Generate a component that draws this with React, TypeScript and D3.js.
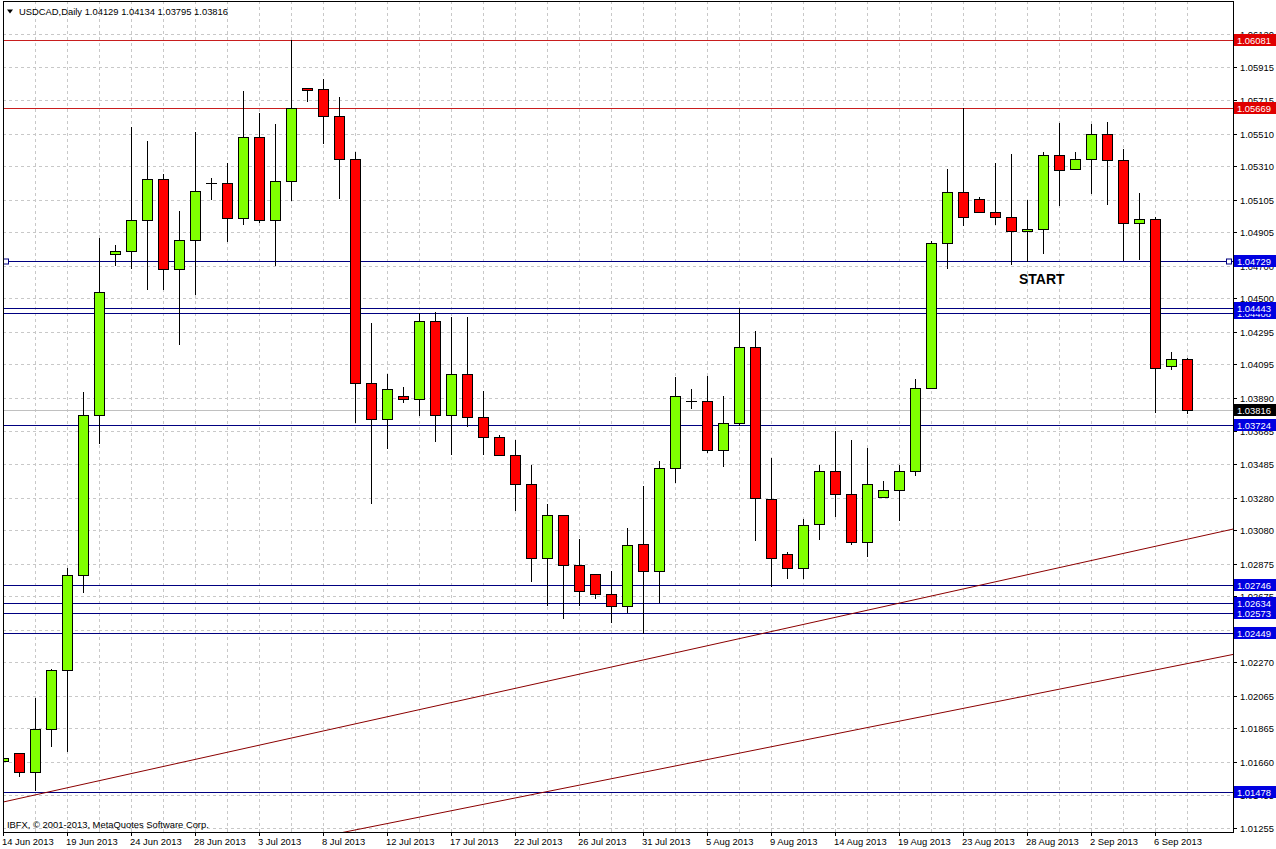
import * as d3 from "d3";

// bar dates (broker feed includes Sunday bars)
const barDates = [
  "14 Jun 2013", "16 Jun 2013", "17 Jun 2013", "18 Jun 2013", "19 Jun 2013", "20 Jun 2013", "21 Jun 2013",
  "23 Jun 2013", "24 Jun 2013", "25 Jun 2013", "26 Jun 2013", "27 Jun 2013", "28 Jun 2013",
  "30 Jun 2013", "1 Jul 2013", "2 Jul 2013", "3 Jul 2013", "4 Jul 2013", "5 Jul 2013",
  "7 Jul 2013", "8 Jul 2013", "9 Jul 2013", "10 Jul 2013", "11 Jul 2013", "12 Jul 2013",
  "14 Jul 2013", "15 Jul 2013", "16 Jul 2013", "17 Jul 2013", "18 Jul 2013", "19 Jul 2013",
  "21 Jul 2013", "22 Jul 2013", "23 Jul 2013", "24 Jul 2013", "25 Jul 2013", "26 Jul 2013",
  "28 Jul 2013", "29 Jul 2013", "30 Jul 2013", "31 Jul 2013", "1 Aug 2013", "2 Aug 2013",
  "4 Aug 2013", "5 Aug 2013", "6 Aug 2013", "7 Aug 2013", "8 Aug 2013", "9 Aug 2013",
  "11 Aug 2013", "12 Aug 2013", "13 Aug 2013", "14 Aug 2013", "15 Aug 2013", "16 Aug 2013",
  "18 Aug 2013", "19 Aug 2013", "20 Aug 2013", "21 Aug 2013", "22 Aug 2013", "23 Aug 2013",
  "25 Aug 2013", "26 Aug 2013", "27 Aug 2013", "28 Aug 2013", "29 Aug 2013", "30 Aug 2013",
  "1 Sep 2013", "2 Sep 2013", "3 Sep 2013", "4 Sep 2013", "5 Sep 2013", "6 Sep 2013",
  "8 Sep 2013", "9 Sep 2013",
];

// open, high, low, close
const ohlc: [number, number, number, number][] = [
  [1.01664, 1.01864, 1.01411, 1.01682],
  [1.01717, 1.01717, 1.01574, 1.01596],
  [1.01596, 1.02054, 1.01488, 1.01864],
  [1.01864, 1.02231, 1.01758, 1.02221],
  [1.02221, 1.0285, 1.01727, 1.02807],
  [1.02807, 1.03925, 1.02701, 1.03787],
  [1.03787, 1.04873, 1.03614, 1.04539],
  [1.04772, 1.04826, 1.04703, 1.04791],
  [1.04791, 1.05549, 1.04688, 1.04981],
  [1.04981, 1.05465, 1.04559, 1.05233],
  [1.05233, 1.0526, 1.04559, 1.04682],
  [1.04682, 1.05035, 1.04221, 1.04858],
  [1.04858, 1.05522, 1.04525, 1.05159],
  [1.05207, 1.05235, 1.05112, 1.05207],
  [1.05207, 1.05331, 1.04852, 1.04993],
  [1.04993, 1.05772, 1.04953, 1.05491],
  [1.05491, 1.05635, 1.04969, 1.04979],
  [1.04979, 1.05569, 1.04707, 1.05219],
  [1.05219, 1.06081, 1.05102, 1.05665],
  [1.05792, 1.05792, 1.0571, 1.05774],
  [1.05786, 1.05843, 1.0545, 1.0562],
  [1.0562, 1.05733, 1.05118, 1.05356],
  [1.05356, 1.05399, 1.03744, 1.0398],
  [1.0398, 1.0435, 1.03246, 1.03762],
  [1.03762, 1.04034, 1.03584, 1.03946],
  [1.03899, 1.03958, 1.03866, 1.03881],
  [1.03881, 1.04408, 1.03785, 1.04363],
  [1.04363, 1.04414, 1.03625, 1.03787],
  [1.03787, 1.04388, 1.03547, 1.04038],
  [1.04038, 1.04388, 1.03717, 1.03774],
  [1.03774, 1.03932, 1.03547, 1.03652],
  [1.03652, 1.03666, 1.03541, 1.03541],
  [1.03541, 1.03631, 1.03202, 1.03363],
  [1.03363, 1.03482, 1.02766, 1.02909],
  [1.02909, 1.03243, 1.02619, 1.03171],
  [1.03171, 1.03171, 1.02543, 1.02864],
  [1.02864, 1.03024, 1.02619, 1.02707],
  [1.02811, 1.02811, 1.02664, 1.02686],
  [1.02686, 1.02828, 1.02517, 1.02615],
  [1.02615, 1.03093, 1.02578, 1.02987],
  [1.02993, 1.03351, 1.02449, 1.0283],
  [1.0283, 1.03502, 1.02639, 1.03461],
  [1.03461, 1.04016, 1.03376, 1.03903],
  [1.03872, 1.03944, 1.0383, 1.03872],
  [1.03872, 1.04026, 1.0356, 1.03572],
  [1.03572, 1.03901, 1.03472, 1.03737],
  [1.03737, 1.04443, 1.03727, 1.04204],
  [1.04204, 1.04302, 1.03017, 1.03275],
  [1.03273, 1.03523, 1.02737, 1.02911],
  [1.02936, 1.02948, 1.02784, 1.0285],
  [1.0285, 1.0315, 1.02784, 1.03114],
  [1.0312, 1.03478, 1.03024, 1.03445],
  [1.03445, 1.03686, 1.03167, 1.03304],
  [1.03304, 1.03631, 1.02993, 1.03007],
  [1.03007, 1.03586, 1.02921, 1.03365],
  [1.03285, 1.03382, 1.03285, 1.03324],
  [1.03324, 1.03478, 1.03142, 1.03445],
  [1.03445, 1.04006, 1.03418, 1.03948],
  [1.03948, 1.04849, 1.03948, 1.04838],
  [1.04838, 1.05291, 1.04687, 1.05151],
  [1.05151, 1.05669, 1.04947, 1.04998],
  [1.0511, 1.05121, 1.05029, 1.05029],
  [1.05029, 1.05329, 1.04957, 1.04998],
  [1.04998, 1.05387, 1.04708, 1.04912],
  [1.04912, 1.051, 1.0473, 1.04924],
  [1.04926, 1.05398, 1.04781, 1.05379],
  [1.05379, 1.05575, 1.05071, 1.05287],
  [1.05294, 1.05398, 1.05294, 1.05355],
  [1.05355, 1.05567, 1.05147, 1.05508],
  [1.05508, 1.05583, 1.05077, 1.05345],
  [1.05345, 1.05414, 1.04738, 1.04963],
  [1.04963, 1.05147, 1.04744, 1.04987],
  [1.04987, 1.05, 1.03806, 1.04075],
  [1.04087, 1.04173, 1.04065, 1.0413],
  [1.04129, 1.04134, 1.03795, 1.03816],
];

const priceTicks = [
  "1.06120", "1.05915", "1.05715", "1.05510", "1.05310", "1.05105", "1.04905", "1.04700",
  "1.04500", "1.04295", "1.04095", "1.03890", "1.03685", "1.03485", "1.03280", "1.03080",
  "1.02875", "1.02675", "1.02470", "1.02270", "1.02065", "1.01865", "1.01660", "1.01455", "1.01255",
];

const redLevels = [1.06081, 1.05669];
const blueLevels = [1.04729, 1.04408, 1.04443, 1.03724, 1.02746, 1.02634, 1.02573, 1.02449, 1.01478];
const selectedLevel = 1.04729;
const bidPrice = 1.03816;

// trend lines: [bar index, price] anchors
const trendLines: [number, number][][] = [
  [[0, 1.01414], [74, 1.03024]],
  [[34, 1.01478], [74, 1.02262]],
];

const notes = [{ text: "START", index: 63.5, price: 1.0459 }];

const symbol = "USDCAD,Daily";
const copyright = "IBFX, \u00a9 2001-2013, MetaQuotes Software Corp.";

const W = 1276;
const H = 849;
const left = 3;
const right = 1233;
const top = 1;
const bottom = 832;
const font = "'Liberation Sans', Arial, sans-serif";
const fs = 9.4;

export default function App() {
  const x = d3.scaleLinear().domain([0, ohlc.length - 1]).range([3, 3 + 16 * (ohlc.length - 1)]);
  const y = d3.scaleLinear().domain([1.01255, 1.0612]).range([828, 34]);
  const fmt = d3.format(".5f");
  const last = ohlc[ohlc.length - 1];

  const iLeft = x.invert(left);
  const iRight = x.invert(right);
  const trendPath = (pts: [number, number][]) => {
    const [[i1, p1], [i2, p2]] = pts;
    const k = (p2 - p1) / (i2 - i1);
    const a = p1 + (iLeft - i1) * k;
    const b = p1 + (iRight - i1) * k;
    return d3.line()([[x(iLeft), y(a)], [x(iRight), y(b)]]) || "";
  };

  const priceLabel = (p: number, fill: string, key: string) => (
    <g key={key}>
      <rect x={right + 1} y={Math.round(y(p)) - 6} width={W - right - 1} height={12} fill={fill} />
      <text x={right + 4} y={Math.round(y(p)) + 3.5} fill="#fff" fontSize={fs} fontFamily={font}>
        {fmt(p)}
      </text>
    </g>
  );

  return (
    <div style={{ position: "absolute", left: 0, top: 0 }}>
      <svg width={W} height={H} style={{ display: "block", background: "#fff" }}>
        <defs>
          <clipPath id="plot">
            <rect x={left} y={top} width={right - left} height={bottom - top} />
          </clipPath>
        </defs>

        {/* grid */}
        <g stroke="#c8c8c8" strokeDasharray="3 3" shapeRendering="crispEdges">
          {priceTicks.map((t) => (
            <line key={t} x1={left} x2={right} y1={Math.round(y(+t)) + 0.5} y2={Math.round(y(+t)) + 0.5} />
          ))}
          {ohlc.map((_, i) =>
            i % 2 === 0 ? (
              <line key={i} x1={x(i) + 0.5} x2={x(i) + 0.5} y1={top} y2={bottom} />
            ) : null
          )}
        </g>

        <g clipPath="url(#plot)">
          {/* bid line */}
          <line x1={left} x2={right} y1={Math.round(y(bidPrice)) + 0.5} y2={Math.round(y(bidPrice)) + 0.5} stroke="#c0c0c0" />

          {/* horizontal levels */}
          {redLevels.map((p) => (
            <line key={p} x1={left} x2={right} y1={Math.round(y(p)) + 0.5} y2={Math.round(y(p)) + 0.5} stroke="#c81e1e" />
          ))}
          {blueLevels.map((p) => (
            <line key={p} x1={left} x2={right} y1={Math.round(y(p)) + 0.5} y2={Math.round(y(p)) + 0.5} stroke="#000080" />
          ))}

          {/* trend lines */}
          {trendLines.map((pts, i) => (
            <path key={i} d={trendPath(pts)} stroke="#8b0000" fill="none" strokeWidth={1} />
          ))}

          {/* candles */}
          {ohlc.map(([o, h, l, c], i) => {
            const cx = x(i);
            const up = c >= o;
            const yt = Math.round(y(Math.max(o, c)));
            const yb = Math.round(y(Math.min(o, c)));
            const doji = Math.abs(o - c) < 0.00005;
            return (
              <g key={i} shapeRendering="crispEdges">
                <line x1={cx + 0.5} x2={cx + 0.5} y1={Math.round(y(h))} y2={Math.round(y(l)) + 1} stroke="#000" />
                {doji ? (
                  <line x1={cx - 5} x2={cx + 6} y1={yt + 0.5} y2={yt + 0.5} stroke="#000" />
                ) : (
                  <rect
                    x={cx - 4.5}
                    y={yt + 0.5}
                    width={10}
                    height={Math.max(1, yb - yt)}
                    fill={up ? "#80ff00" : "#ff0000"}
                    stroke="#000"
                  />
                )}
              </g>
            );
          })}

          {/* selection handles */}
          {[left + 3, right - 4].map((hx) => (
            <rect key={hx} x={hx - 2.5} y={Math.round(y(selectedLevel)) - 2} width={5} height={5} fill="#fff" stroke="#000080" />
          ))}

          {notes.map((n) => (
            <text key={n.text} x={x(n.index)} y={y(n.price)} fontSize={14} fontWeight="bold" fontFamily={font} fill="#000">
              {n.text}
            </text>
          ))}

          <text x={7} y={828} fontSize={fs} fontFamily={font} fill="#000">
            {copyright}
          </text>

          <path d="M7,9.5 L13,9.5 L10,13.5 Z" fill="#000" />
          <text x={19} y={14.5} fontSize={fs} fontFamily={font} fill="#000">
            {symbol + "  " + last.map((v) => fmt(v)).join(" ")}
          </text>
        </g>

        {/* frame */}
        <rect x={left + 0.5} y={top + 0.5} width={right - left} height={bottom - top} fill="none" stroke="#000" shapeRendering="crispEdges" />

        {/* price axis */}
        {priceTicks.map((t) => (
          <g key={t}>
            <line x1={right} x2={right + 4} y1={Math.round(y(+t)) + 0.5} y2={Math.round(y(+t)) + 0.5} stroke="#000" />
            <text x={right + 7} y={Math.round(y(+t)) + 3.5} fontSize={fs} fontFamily={font} fill="#000">
              {t}
            </text>
          </g>
        ))}
        {redLevels.map((p) => priceLabel(p, "#e00000", "r" + p))}
        {blueLevels.map((p) => priceLabel(p, "#0000e0", "b" + p))}
        {priceLabel(bidPrice, "#000", "bid")}

        {/* time axis */}
        {barDates.map((d, i) =>
          i % 4 === 0 ? (
            <g key={d}>
              <line x1={x(i) + 0.5} x2={x(i) + 0.5} y1={bottom} y2={bottom + 4} stroke="#000" />
              <text x={x(i) - 1} y={845} fontSize={fs} fontFamily={font} fill="#000">
                {d}
              </text>
            </g>
          ) : null
        )}
      </svg>
    </div>
  );
}
